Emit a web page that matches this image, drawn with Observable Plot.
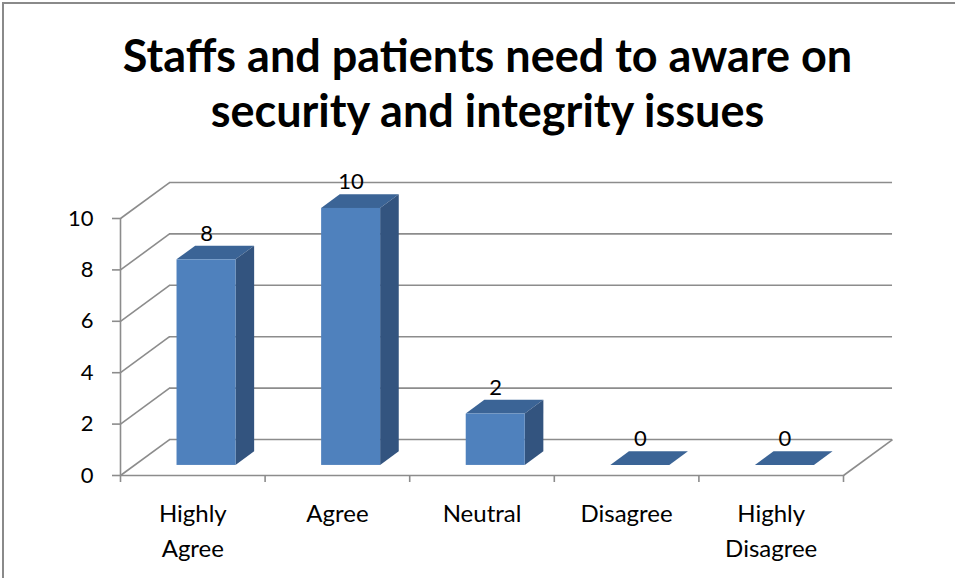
<!DOCTYPE html>
<html><head><meta charset="utf-8">
<script src="https://cdn.jsdelivr.net/npm/d3@7"></script>
<script src="https://cdn.jsdelivr.net/npm/@observablehq/plot@0.6"></script>
<style>
body{margin:0;background:#fff;width:955px;height:578px;overflow:hidden;position:relative;}
#frame{position:absolute;left:2px;top:2px;width:980px;height:620px;border-left:2px solid #8a8a8a;border-top:2px solid #8a8a8a;z-index:2;pointer-events:none;}
#title{position:absolute;left:0;top:0;width:975px;text-align:center;font-family:Lato,"Open Sans",sans-serif;font-weight:bold;font-size:45px;line-height:55px;padding-top:28px;color:#000;}
#chart{position:absolute;left:0;top:150px;}
</style></head><body>
<div id="frame"></div>
<div id="title">Staffs and patients need to aware on<br>security and integrity issues</div>
<div id="chart"></div>
<script>
const categories = ["Highly\nAgree", "Agree", "Neutral", "Disagree", "Highly\nDisagree"];
const values = [8, 10, 2, 0, 0];
const yTicks = [0, 2, 4, 6, 8, 10];
const boundaries = [0, 1, 2, 3, 4, 5];

// 3D projection constants (in data units): depth offset of back wall
const DX = 0.339, DY = 1.40;
const F0 = 0.28, F1 = 0.66;   // bar front / back depth fractions
const BW = 0.408;             // bar width in category units

const bars = values.map((v, i) => ({
  cat: categories[i], v,
  xl: i + 0.5 - BW / 2, xr: i + 0.5 + BW / 2
}));

const sidePts = bars.flatMap(b => [
  {cat: b.cat, x: b.xr + F0 * DX, y1: F0 * DY, y2: b.v + F0 * DY},
  {cat: b.cat, x: b.xr + F1 * DX, y1: F1 * DY, y2: b.v + F1 * DY}
]);
const topPts = bars.flatMap(b => [
  {cat: b.cat, y: b.v + F0 * DY, x1: b.xl + F0 * DX, x2: b.xr + F0 * DX},
  {cat: b.cat, y: b.v + F1 * DY, x1: b.xl + F1 * DX, x2: b.xr + F1 * DX}
]);

const grid = "#8c8c8c";

const chart = Plot.plot({
  width: 955,
  height: 428,
  marginLeft: 120,
  marginRight: 112,
  marginTop: 68,
  marginBottom: 103,
  style: {fontFamily: "Lato, 'Open Sans', sans-serif", fontSize: "22px", background: "transparent", color: "#000"},
  x: {domain: [0, 5], label: null},
  y: {domain: [0, 10], label: null},
  marks: [
    // side wall
    Plot.link(yTicks, {x1: 0, y1: d => d, x2: DX, y2: d => d + DY, stroke: grid, strokeWidth: 1.6}),
    // back wall gridlines
    Plot.ruleY(yTicks, {y: d => d + DY, x1: DX, x2: 5 + DX, stroke: grid, strokeWidth: 1.6}),
    // floor
    Plot.ruleY([0], {x1: 0, x2: 5, stroke: grid, strokeWidth: 1.6}),
    Plot.link([0], {x1: 5, y1: 0, x2: 5 + DX, y2: DY, stroke: grid, strokeWidth: 1.6}),
    // y axis line
    Plot.ruleX([0], {y1: 0, y2: 10, stroke: grid, strokeWidth: 1.6}),
    Plot.axisY({ticks: yTicks, tickSize: 8, tickPadding: 19, stroke: grid, strokeWidth: 1.6, fill: "#000", fontSize: 22, label: null}),
    Plot.axisX({ticks: boundaries, tickSize: 7, tickFormat: () => "", stroke: grid, strokeWidth: 1.6, label: null}),
    // bars: top, side, front
    Plot.areaX(topPts, {y: "y", x1: "x1", x2: "x2", z: "cat", fill: "#3b6496", curve: "linear"}),
    Plot.areaY(sidePts, {x: "x", y1: "y1", y2: "y2", z: "cat", fill: "#33547f", curve: "linear"}),
    Plot.rect(bars.filter(b => b.v > 0), {x1: b => b.xl + F0 * DX, x2: b => b.xr + F0 * DX, y1: F0 * DY, y2: b => b.v + F0 * DY, fill: "#4f81bd"}),
    // value labels
    Plot.text(bars, {x: b => (b.xl + b.xr) / 2 + F0 * DX, y: b => b.v + F0 * DY, dy: -26, text: b => String(b.v), fontSize: 22, fill: "#000"}),
    // category labels
    Plot.text(categories, {x: (d, i) => i + 0.5, y: 0, dy: 22, text: d => d, lineAnchor: "top", lineHeight: 1.45, fontSize: 24, fill: "#000"})
  ]
});
document.getElementById("chart").appendChild(chart);
</script>
</body></html>
